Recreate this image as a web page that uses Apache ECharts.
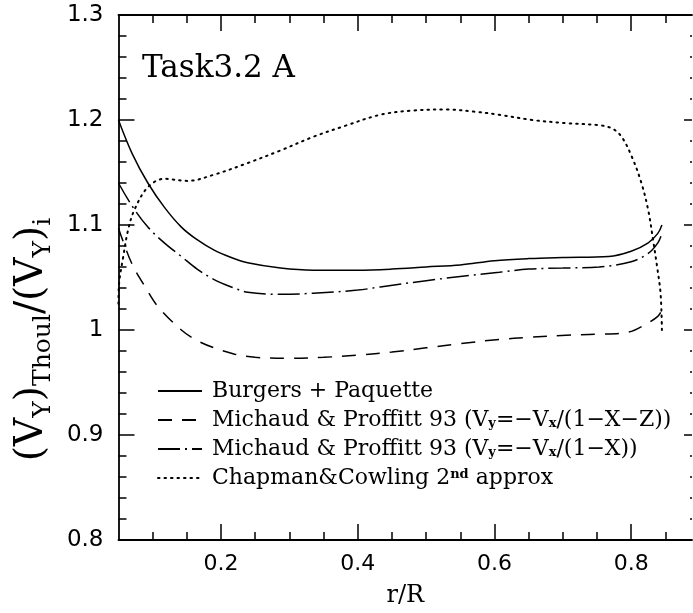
<!DOCTYPE html>
<html>
<head>
<meta charset="utf-8">
<script src="https://cdn.jsdelivr.net/npm/echarts@6/dist/echarts.min.js"></script>
<style>
html,body{margin:0;padding:0;background:#fff;}
#c{width:693px;height:613px;}
</style>
</head>
<body>
<div id="c"></div>
<script>
// ---- data ----
const rBP = [0.05,0.07,0.093,0.117,0.142,0.165,0.19,0.215,0.239,0.287,0.335,0.4,0.45,0.5,0.55,0.6,0.65,0.7,0.767,0.8,0.825,0.839,0.845];
const vBP = [1.2,1.168,1.14,1.117,1.098,1.086,1.076,1.069,1.064,1.059,1.057,1.057,1.058,1.06,1.062,1.066,1.068,1.069,1.07,1.075,1.083,1.092,1.1];

const rMP1 = [0.05,0.069,0.09,0.108,0.142,0.165,0.19,0.22,0.25,0.3,0.35,0.4,0.45,0.5,0.55,0.607,0.65,0.705,0.75,0.796,0.82,0.839,0.845];
const vMP1 = [1.097,1.064,1.04,1.022,1.0,0.99,0.983,0.977,0.974,0.973,0.974,0.976,0.979,0.983,0.987,0.991,0.993,0.995,0.996,0.998,1.005,1.013,1.019];

const rMP2 = [0.05,0.07,0.093,0.117,0.142,0.165,0.19,0.215,0.239,0.287,0.335,0.4,0.433,0.5,0.55,0.607,0.65,0.7,0.753,0.8,0.825,0.839,0.845];
const vMP2 = [1.14,1.118,1.098,1.083,1.07,1.058,1.048,1.041,1.036,1.034,1.035,1.038,1.041,1.047,1.051,1.055,1.058,1.059,1.06,1.065,1.073,1.083,1.092];

const rCC = [0.05,0.0505,0.057,0.064,0.073,0.093,0.117,0.151,0.19,0.239,0.287,0.335,0.384,0.433,0.48,0.53,0.57,0.607,0.655,0.705,0.753,0.772,0.786,0.801,0.815,0.825,0.832,0.838,0.843,0.845];
const vCC = [1.025,1.041,1.07,1.095,1.114,1.136,1.144,1.142,1.148,1.159,1.171,1.184,1.195,1.205,1.209,1.21,1.208,1.205,1.2,1.197,1.195,1.192,1.184,1.165,1.14,1.114,1.086,1.06,1.035,1.0];

const xMajor = [0.2,0.4,0.6,0.8];
const xMinor = [0.1,0.15,0.25,0.3,0.35,0.45,0.5,0.55,0.65,0.7,0.75,0.85];

const names = ['Burgers + Paquette','Michaud & Proffitt 93 (Vy=-Vx/(1-X-Z))','Michaud & Proffitt 93 (Vy=-Vx/(1-X))','Chapman&Cowling 2nd approx'];
const legendRich = {
  'Burgers + Paquette': 'Burgers + Paquette',
  'Michaud & Proffitt 93 (Vy=-Vx/(1-X-Z))': 'Michaud & Proffitt 93 (V{s|y}=\u2212V{s|x}/(1\u2212X\u2212Z))',
  'Michaud & Proffitt 93 (Vy=-Vx/(1-X))': 'Michaud & Proffitt 93 (V{s|y}=\u2212V{s|x}/(1\u2212X))',
  'Chapman&Cowling 2nd approx': 'Chapman&Cowling 2{p|nd} approx'
};

function pairs(r, v){ return r.map((x,i)=>[x, v[i]]); }

const SERIF = 'DejaVu Serif';
const SANS = 'DejaVu Sans';
const styles = [
  {type:'solid', w:1.5},
  {type:[14,10], w:1.5},
  {type:[22,5,2,5], w:1.5},
  {type:[1.5,5], w:2}
];
const dataSets = [pairs(rBP,vBP), pairs(rMP1,vMP1), pairs(rMP2,vMP2), pairs(rCC,vCC)];

const chart = echarts.init(document.getElementById('c'), null, {renderer:'canvas'});

const XMIN = 0.05, XMAX = 0.889;

function xAx(pos, vals, len, labels, line){
  return {
    type:'value', position:pos, min:XMIN, max:XMAX, gridIndex:0,
    axisLine:{show:line, onZero:false, lineStyle:{color:'#000', width:1.8}},
    axisTick:{show:true, inside:true, length:len, customValues:vals, lineStyle:{color:'#000', width:1.5}},
    axisLabel:{show:labels, customValues:vals, margin:13, color:'#000', fontFamily:SANS, fontSize:22,
      formatter:(v)=>(+v).toFixed(1)},
    splitLine:{show:false},
    name: labels ? 'r/R' : '',
    nameLocation:'middle', nameGap:44,
    nameTextStyle:{fontFamily:SERIF, fontSize:24, color:'#000'}
  };
}
function yAx(pos, labels){
  return {
    type:'value', position:pos, min:0.8, max:1.3, interval:0.1, gridIndex:0,
    axisLine:{show:labels, onZero:false, lineStyle:{color:'#000', width:1.8}},
    axisTick:{show:true, inside:true, length:labels?16:8, lineStyle:{color:'#000', width:1.5}},
    minorTick:{show:true, splitNumber:5, length:labels?8:2, lineStyle:{color:'#000', width:1.5}},
    axisLabel:{show:labels, margin:15, color:'#000', fontFamily:SANS, fontSize:23,
      formatter:(v)=>String(+(+v).toFixed(1))},
    splitLine:{show:false}, minorSplitLine:{show:false},
    name: labels ? '(V{s|Y}){s|Thoul}/(V{s|Y}){s|i}' : '',
    nameLocation:'middle', nameGap:60, nameRotate:90,
    nameTextStyle:{fontFamily:SERIF, fontSize:39, lineHeight:48, color:'#000',
      padding:[0,124,0,0],
      rich:{ s:{fontFamily:SERIF, fontSize:25, lineHeight:24, verticalAlign:'bottom', color:'#000'} }}
  };
}

const option = {
  backgroundColor:'#fff',
  animation:false,
  textStyle:{fontFamily:SERIF},
  title:{text:'Task3.2 A', left:142, top:53, padding:0,
    textStyle:{fontFamily:SERIF, fontSize:31, fontWeight:'normal', color:'#000'}},
  grid:{left:117, top:15, right:1, bottom:73, containLabel:false},
  xAxis:[
    xAx('bottom', xMajor, 16, true, true),
    xAx('bottom', xMinor, 8, false, false),
    xAx('top', xMajor, 16, false, true),
    xAx('top', xMinor, 8, false, false)
  ],
  yAxis:[ yAx('left', true), yAx('right', false) ],
  legend:{
    orient:'vertical', left:152, top:375, itemWidth:44, itemHeight:20, itemGap:7,
    data:names,
    itemStyle:{opacity:0},
    formatter:(n)=>legendRich[n],
    textStyle:{fontFamily:SERIF, fontSize:22, lineHeight:20, color:'#000', padding:[0,0,0,5],
      rich:{
        s:{fontFamily:SERIF, fontSize:13, fontWeight:'bold', lineHeight:12, verticalAlign:'bottom', color:'#000'},
        p:{fontFamily:SERIF, fontSize:13, fontWeight:'bold', lineHeight:12, verticalAlign:'top', color:'#000'}
      }}
  },
  series: names.map((n,i)=>({
    name:n, type:'line', xAxisIndex:0, yAxisIndex:0,
    data:dataSets[i], showSymbol:false, symbol:'circle', symbolSize:0,
    smooth:0.35,
    lineStyle:{color:'#000', width:styles[i].w, type:styles[i].type, cap:i===3?'round':'butt'},
    itemStyle:{color:'#000'},
    clip:true
  }))
};
chart.setOption(option);
</script>
</body>
</html>
